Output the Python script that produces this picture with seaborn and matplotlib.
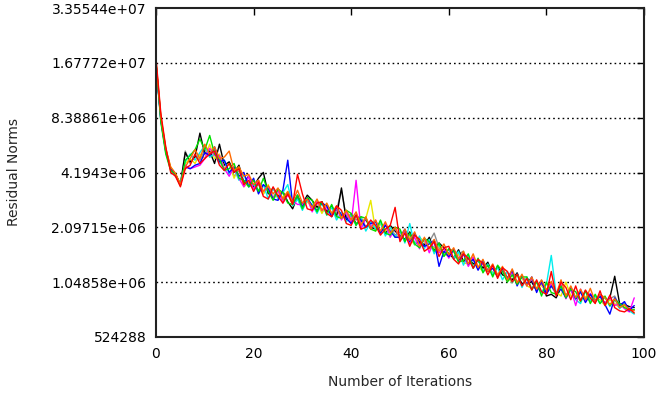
import numpy as np
import pandas as pd
import matplotlib
matplotlib.use("Agg")
import matplotlib.pyplot as plt
from matplotlib.ticker import FixedLocator, FuncFormatter
import seaborn as sns

# Residual norms (in millions) per run, iterations 0..98
red = [17.8, 8.8, 5.8, 4.2, 4.0, 3.5, 4.4, 4.6, 5.3, 4.7,
       5.0, 5.3, 5.5, 4.6, 4.3, 4.7, 4.2, 4.4, 3.6, 3.8,
       3.3, 3.7, 3.1, 3.0, 3.5, 3.1, 2.85, 3.2, 2.8, 4.1,
       3.2, 2.65, 2.6, 2.85, 2.9, 2.5, 2.4, 2.75, 2.6, 2.2,
       2.15, 2.45, 2.05, 2.1, 2.3, 2.15, 1.9, 2.05, 2.15, 2.7,
       1.75, 1.95, 1.65, 1.9, 1.8, 1.55, 1.62, 1.75, 1.45, 1.62,
       1.65, 1.4, 1.32, 1.5, 1.42, 1.25, 1.4, 1.33, 1.15, 1.3,
       1.1, 1.26, 1.2, 1.05, 1.16, 1.0, 1.1, 0.95, 1.08, 0.93,
       0.9, 1.2, 0.88, 1.05, 0.98, 0.84, 1.0, 0.83, 0.95, 0.86,
       0.8, 0.94, 0.78, 0.89, 0.76, 0.73, 0.72, 0.75, 0.71]
green = [16.8, 7.9, 5.3, 4.3, 4.1, 3.55, 4.9, 5.2, 5.6, 6.4,
         5.6, 6.7, 5.3, 5.0, 4.3, 4.4, 4.7, 3.9, 3.8, 3.5,
         3.8, 3.3, 3.9, 3.3, 2.95, 3.4, 3.25, 2.85, 2.8, 3.15,
         2.65, 3.05, 2.95, 2.55, 2.9, 2.45, 2.8, 2.4, 2.35, 2.6,
         2.5, 2.15, 2.4, 2.35, 2.05, 2.0, 2.3, 1.95, 1.9, 2.1,
         2.05, 1.75, 1.95, 1.7, 1.62, 1.82, 1.75, 1.55, 1.72, 1.45,
         1.6, 1.55, 1.35, 1.38, 1.5, 1.25, 1.42, 1.18, 1.3, 1.12,
         1.3, 1.2, 1.05, 1.15, 1.02, 1.12, 1.12, 0.95, 1.06, 0.88,
         1.05, 0.92, 0.9, 1.0, 0.86, 0.96, 0.93, 0.82, 0.94, 0.8,
         0.9, 0.8, 0.88, 0.78, 0.84, 0.8, 0.76, 0.74, 0.74]
blue = [16.5, 8.1, 5.5, 4.4, 4.1, 3.6, 4.5, 4.4, 4.6, 4.7,
        5.4, 5.2, 5.8, 4.8, 4.9, 4.2, 4.5, 4.0, 4.2, 3.5,
        3.9, 3.2, 3.6, 3.4, 3.0, 2.95, 3.35, 4.9, 2.8, 3.15,
        2.7, 3.05, 2.75, 2.6, 2.85, 2.75, 2.4, 2.7, 2.45, 2.35,
        2.2, 2.45, 2.3, 2.1, 2.2, 2.25, 1.95, 2.15, 2.0, 1.85,
        1.85, 2.05, 1.75, 1.95, 1.72, 1.65, 1.7, 1.78, 1.28, 1.55,
        1.45, 1.58, 1.38, 1.5, 1.32, 1.4, 1.22, 1.38, 1.2, 1.25,
        1.12, 1.25, 1.1, 1.22, 1.0, 1.14, 1.02, 1.12, 0.92, 1.07,
        0.9, 1.0, 0.92, 0.96, 0.86, 0.98, 0.85, 0.93, 0.81, 0.9,
        0.83, 0.88, 0.79, 0.7, 0.86, 0.78, 0.82, 0.73, 0.78]
magenta = [16.6, 8.2, 5.5, 4.4, 4.0, 3.6, 4.6, 4.4, 4.5, 4.6,
           5.0, 5.7, 5.2, 5.2, 4.4, 4.0, 4.5, 3.9, 3.5, 4.0,
           3.4, 3.8, 3.3, 3.5, 3.0, 3.35, 2.85, 3.15, 2.95, 2.8,
           2.8, 3.05, 2.55, 2.9, 2.6, 2.7, 2.4, 2.7, 2.3, 2.55,
           2.2, 3.8, 2.05, 2.35, 2.1, 2.3, 1.95, 2.2, 1.85, 2.1,
           1.78, 2.02, 1.7, 1.85, 1.6, 1.82, 1.52, 1.78, 1.52, 1.6,
           1.42, 1.58, 1.42, 1.5, 1.28, 1.44, 1.24, 1.35, 1.22, 1.3,
           1.14, 1.24, 1.06, 1.2, 1.04, 1.13, 1.0, 1.1, 0.94, 1.06,
           0.9, 1.04, 0.9, 1.02, 0.85, 0.97, 0.78, 0.96, 0.82, 0.91,
           0.82, 0.89, 0.8, 0.87, 0.78, 0.8, 0.75, 0.72, 0.86]
cyan = [16.4, 8.0, 5.4, 4.4, 4.05, 3.6, 4.8, 5.3, 4.9, 5.4,
        5.9, 5.1, 5.3, 4.7, 4.9, 4.1, 4.4, 3.8, 4.1, 3.5,
        3.6, 3.3, 3.6, 3.0, 3.45, 3.0, 3.25, 3.6, 2.75, 3.0,
        2.6, 2.95, 2.8, 2.5, 2.85, 2.45, 2.7, 2.3, 2.55, 2.25,
        2.45, 2.15, 2.35, 2.0, 2.25, 2.05, 2.25, 1.88, 2.1, 1.85,
        2.02, 1.72, 2.2, 1.68, 1.88, 1.6, 1.8, 1.5, 1.7, 1.46,
        1.6, 1.42, 1.55, 1.3, 1.48, 1.26, 1.4, 1.2, 1.32, 1.16,
        1.26, 1.08, 1.2, 1.04, 1.16, 0.98, 1.12, 0.96, 1.05, 0.92,
        1.02, 1.47, 0.9, 0.98, 0.86, 0.96, 0.84, 0.8, 0.94, 0.83,
        0.88, 0.8, 0.87, 0.77, 0.85, 0.75, 0.8, 0.73, 0.7]
yellow = [16.9, 8.4, 5.6, 4.5, 4.1, 3.65, 4.7, 5.0, 4.7, 5.3,
          5.0, 6.0, 5.0, 5.3, 4.4, 4.7, 3.9, 4.5, 3.5, 3.7,
          3.4, 3.8, 3.2, 3.6, 3.0, 3.2, 3.05, 3.3, 2.75, 3.15,
          2.7, 2.9, 2.7, 2.9, 2.5, 2.8, 2.4, 2.7, 2.4, 2.6,
          2.25, 2.45, 2.2, 2.35, 2.95, 2.0, 2.2, 2.0, 2.1, 1.85,
          1.88, 1.98, 1.82, 1.68, 1.85, 1.75, 1.6, 1.62, 1.66, 1.5,
          1.45, 1.55, 1.48, 1.34, 1.32, 1.44, 1.28, 1.2, 1.3, 1.18,
          1.16, 1.22, 1.12, 1.04, 1.14, 1.1, 1.0, 0.97, 1.04, 1.0,
          0.95, 1.0, 0.92, 0.88, 1.05, 0.88, 0.86, 0.92, 0.87, 0.82,
          0.86, 0.84, 0.78, 0.84, 0.8, 0.76, 0.78, 0.73, 0.71]
black = [16.7, 8.3, 5.6, 4.4, 4.1, 3.6, 5.4, 4.8, 5.1, 6.9,
         5.3, 5.5, 4.7, 6.0, 4.6, 4.8, 4.2, 4.6, 3.7, 4.0,
         3.5, 3.9, 4.2, 3.2, 3.45, 3.1, 3.3, 2.9, 2.65, 3.1,
         2.8, 3.15, 2.95, 2.7, 2.9, 2.55, 2.75, 2.4, 3.45, 2.3,
         2.45, 2.2, 2.25, 2.3, 2.1, 2.05, 2.25, 1.92, 2.15, 2.0,
         1.88, 1.8, 1.98, 1.7, 1.75, 1.68, 1.85, 1.56, 1.72, 1.62,
         1.5, 1.42, 1.58, 1.36, 1.42, 1.32, 1.38, 1.25, 1.35, 1.15,
         1.28, 1.15, 1.12, 1.08, 1.18, 1.02, 1.1, 1.05, 0.94, 1.05,
         0.88, 0.9, 0.86, 0.98, 0.88, 0.96, 0.85, 0.94, 0.84, 0.9,
         0.82, 0.88, 0.8, 0.86, 1.13, 0.8, 0.79, 0.77, 0.76]
orange = [17.2, 8.5, 5.7, 4.5, 4.15, 3.6, 4.5, 5.0, 5.6, 5.0,
          6.0, 5.3, 5.8, 5.0, 5.1, 5.5, 4.3, 4.5, 4.0, 4.1,
          3.6, 3.8, 3.3, 3.55, 3.2, 3.45, 3.0, 3.3, 2.9, 3.35,
          2.85, 3.0, 2.7, 3.0, 2.6, 2.85, 2.5, 2.75, 2.35, 2.6,
          2.3, 2.55, 2.15, 2.4, 2.05, 2.3, 2.0, 2.25, 1.95, 2.1,
          1.82, 2.05, 1.78, 1.98, 1.65, 1.85, 1.6, 1.8, 1.55, 1.7,
          1.48, 1.62, 1.4, 1.55, 1.32, 1.5, 1.26, 1.4, 1.2, 1.32,
          1.14, 1.28, 1.08, 1.24, 1.04, 1.16, 1.0, 1.12, 0.96, 1.08,
          0.95, 1.06, 0.9, 1.08, 0.88, 1.0, 0.86, 0.96, 0.84, 0.97,
          0.82, 0.9, 0.86, 0.79, 0.85, 0.76, 0.79, 0.74, 0.73]
gray = [16.6, 8.2, 5.5, 4.4, 4.0, 3.6, 5.5, 4.7, 5.2, 4.9,
        5.6, 5.1, 5.6, 4.8, 4.4, 4.7, 4.0, 4.3, 3.6, 4.0,
        3.4, 3.6, 3.2, 3.5, 3.05, 3.4, 2.95, 3.25, 2.85, 3.05,
        2.75, 3.0, 2.65, 2.9, 2.55, 2.8, 2.5, 2.6, 3.35, 2.35,
        2.5, 2.3, 2.4, 2.1, 2.25, 2.05, 2.2, 1.95, 2.1, 1.9,
        1.98, 1.78, 1.9, 1.7, 1.82, 1.65, 1.75, 1.95, 1.62, 1.5,
        1.58, 1.4, 1.5, 1.55, 1.3, 1.4, 1.26, 1.32, 1.2, 1.3,
        1.15, 1.24, 1.08, 1.18, 1.05, 1.12, 1.02, 1.08, 0.96, 1.04,
        0.94, 1.0, 0.9, 0.98, 0.87, 0.99, 0.86, 0.92, 0.84, 0.9,
        0.82, 0.88, 0.8, 0.85, 0.88, 0.77, 0.8, 0.74, 0.74]

series_names = ["gray", "black", "yellow", "cyan", "magenta", "blue", "green", "orange", "red"]
series_values = [gray, black, yellow, cyan, magenta, blue, green, orange, red]
colors = {"gray": "#8c8c8c", "black": "#000000", "yellow": "#e8e800", "cyan": "#00eeee",
          "magenta": "#ff00ff", "blue": "#0000ff", "green": "#00e000", "orange": "#ff6a00",
          "red": "#ff0000"}

y_ticks = [2 ** k for k in range(19, 26)]
x_ticks = [0, 20, 40, 60, 80, 100]

rows = []
for name, vals in zip(series_names, series_values):
    for i, v in enumerate(vals):
        rows.append({"iter": i, "norm": v * 1e6, "run": name})
df = pd.DataFrame(rows)

sns.set_style("white")
plt.rcParams["font.family"] = ["DejaVu Sans"]

fig = plt.figure(figsize=(6.59, 3.95), dpi=100)
ax = fig.add_axes([156 / 659, 1 - 337 / 395, 488 / 659, 329 / 395])

ax.set_yscale("log", base=2)
ax.set_ylim(2 ** 19, 2 ** 25)
ax.set_xlim(0, 100)

for yt in y_ticks[1:-1]:
    ax.axhline(yt, color="black", lw=1.0, linestyle=(0, (1.2, 2.2)), zorder=0.5)

sns.lineplot(data=df, x="iter", y="norm", hue="run", hue_order=series_names,
             palette=colors, lw=1.0, legend=False, ax=ax, estimator=None, sort=False)

ax.yaxis.set_major_locator(FixedLocator(y_ticks))
ax.yaxis.set_minor_locator(FixedLocator([]))
ax.yaxis.set_major_formatter(FuncFormatter(lambda v, p: "%g" % v))
ax.xaxis.set_major_locator(FixedLocator(x_ticks))

ax.tick_params(axis="both", which="major", direction="in", length=5, width=1,
               labelsize=10, colors="black", top=True, right=True, pad=7)
ax.tick_params(axis="y", which="minor", length=0)

for s in ax.spines.values():
    s.set_visible(True)
    s.set_color("#222222")
    s.set_linewidth(1.5)

ax.set_xlabel("Number of Iterations", fontsize=10, labelpad=10)
ax.set_ylabel("Residual Norms", fontsize=10)
ax.yaxis.set_label_coords(-0.277, 0.5)

fig.savefig("out.png", dpi=100)
